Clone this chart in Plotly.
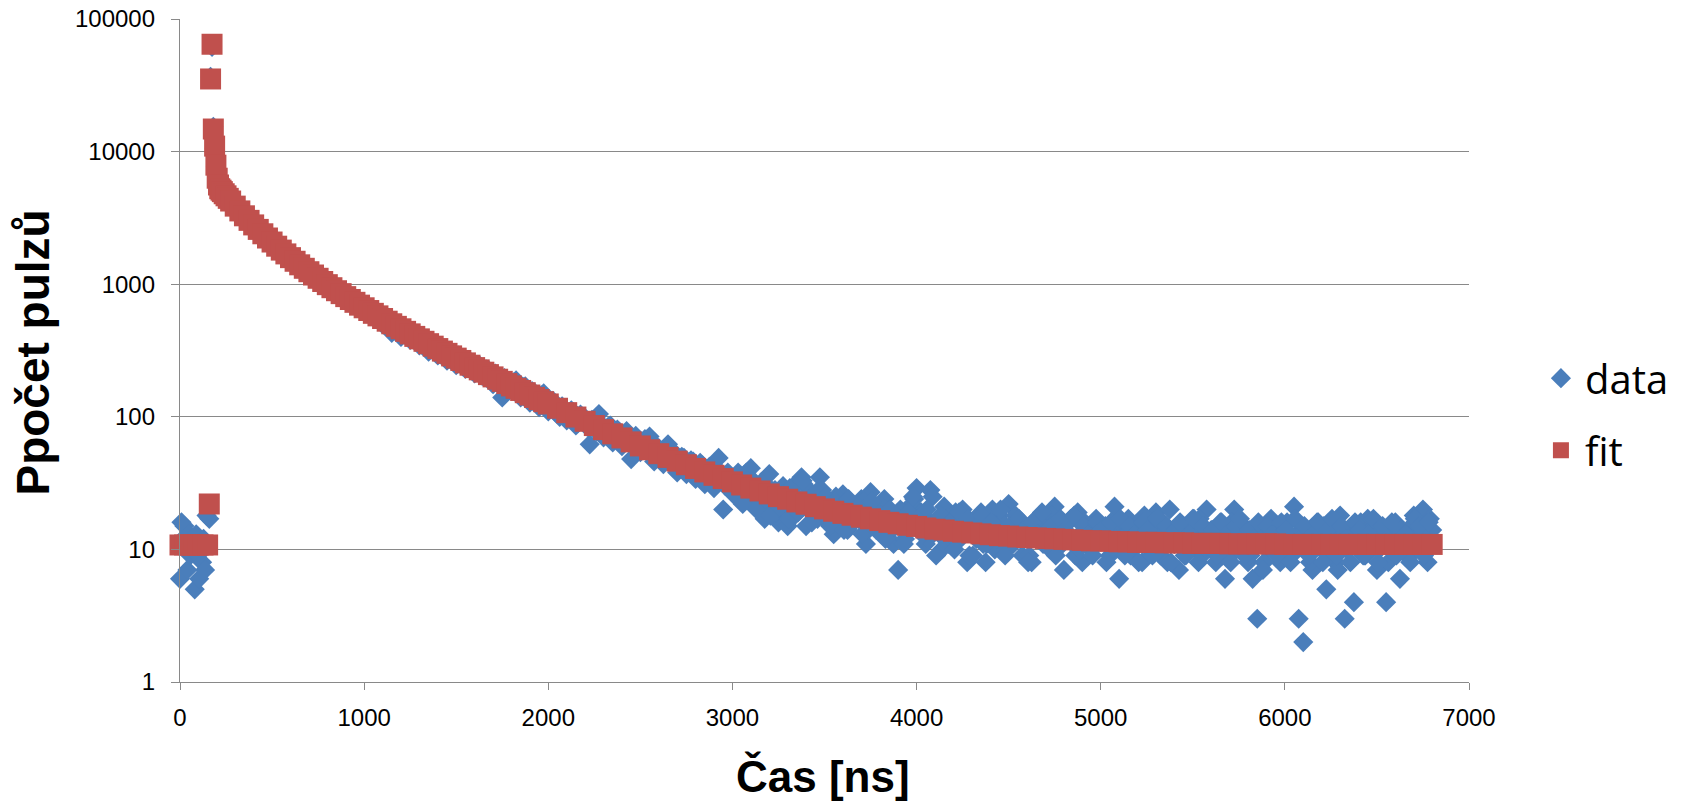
import plotly.graph_objects as go

# ---------------- data ----------------
data_x = [0, 8, 16, 24, 32, 40, 48, 56, 64, 72, 80, 88, 96, 104, 112, 120, 128, 136, 144, 152, 159,
          166, 174, 181, 188, 195, 202, 209, 216,
          225, 250, 275, 300, 325, 350, 375, 400, 425, 450, 475, 500, 525, 550, 575, 600,
          625, 650, 675, 700, 725, 750, 775, 800, 825, 850, 875, 900, 925, 950, 975, 1000,
          1025, 1050, 1075, 1100, 1125, 1150, 1175, 1200, 1225, 1250, 1275, 1300, 1325, 1350, 1375, 1400,
          1425, 1450, 1475, 1500, 1525, 1550, 1575, 1600, 1625, 1650, 1675, 1700, 1725, 1750, 1775, 1800,
          1825, 1850, 1875, 1900, 1925, 1950, 1975, 2000,
          2025, 2050, 2075, 2100, 2125, 2150, 2175, 2200, 2225, 2250, 2275, 2300, 2325, 2350, 2375, 2400,
          2425, 2450, 2475, 2500, 2525, 2550, 2575, 2600, 2625, 2650, 2675, 2700, 2725, 2750, 2775, 2800,
          2825, 2850, 2875, 2900, 2925, 2950, 2975, 3000,
          3025, 3050, 3075, 3100, 3125, 3150, 3175, 3200, 3225, 3250, 3275, 3300, 3325, 3350, 3375, 3400,
          3425, 3450, 3475, 3500, 3525, 3550, 3575, 3600, 3625, 3650, 3675, 3700, 3725, 3750, 3775, 3800,
          3825, 3850, 3875, 3900, 3925, 3950, 3975, 4000,
          4025, 4050, 4075, 4100, 4125, 4150, 4175, 4200, 4225, 4250, 4275, 4300, 4325, 4350, 4375, 4400,
          4425, 4450, 4475, 4500, 4525, 4550, 4575, 4600, 4625, 4650, 4675, 4700, 4725, 4750, 4775, 4800,
          4825, 4850, 4875, 4900, 4925, 4950, 4975, 5000,
          5025, 5050, 5075, 5100, 5125, 5150, 5175, 5200, 5225, 5250, 5275, 5300, 5325, 5350, 5375, 5400,
          5425, 5450, 5475, 5500, 5525, 5550, 5575, 5600, 5625, 5650, 5675, 5700, 5725, 5750, 5775, 5800,
          5825, 5850, 5875, 5900, 5925, 5950, 5975, 6000,
          6025, 6050, 6075, 6100, 6125, 6150, 6175, 6200, 6225, 6250, 6275, 6300, 6325, 6350, 6375, 6400,
          6425, 6450, 6475, 6500, 6525, 6550, 6575, 6600, 6625, 6650, 6675, 6700, 6725, 6750, 6775, 6800]

data_y = [6, 16, 12, 15, 10, 7, 13, 9, 11, 12, 5, 13, 9, 6, 11, 8, 12, 7, 18, 11, 17,
          36600, 61700, 15400, 10600, 7700, 6200, 5450, 5300,
          5020, 4700, 4180, 3930, 3520, 3300, 2990, 2830, 2550, 2420, 2190, 2100, 1900, 1830, 1660, 1600,
          1460, 1380, 1330, 1210, 1160, 1090, 1060, 970, 950, 870, 860, 780, 770, 710, 680, 650,
          610, 640, 540, 500, 550, 430, 470, 400, 455, 380, 415, 345, 380, 310, 350, 290,
          330, 265, 300, 245, 280, 230, 262, 212, 245, 200, 225, 176, 205, 140, 190, 160,
          188, 140, 170, 128, 152, 118, 150, 110,
          132, 104, 120, 94, 112, 86, 104, 98, 62, 90, 105, 70, 84, 64, 80, 60,
          78, 48, 72, 54, 68, 71, 46, 58, 44, 62, 52, 38, 50, 37, 47, 34,
          45, 31, 42, 29, 49, 20, 38, 27,
          34, 24, 38, 41, 21, 29, 17, 37, 26, 16, 30, 15, 24, 20, 35, 15,
          27, 19, 35, 17, 23, 13, 21, 26, 14, 22, 18, 24, 11, 27, 15, 21,
          24, 12, 11, 7, 18, 14, 22, 29,
          19, 11, 28, 16, 13, 21, 11, 17, 14, 20, 8, 15, 12, 19, 8, 14,
          10, 18, 13, 22, 11, 16, 9, 14, 8, 17, 12, 15, 10, 21, 13, 7,
          16, 11, 19, 8, 14, 10, 17, 12,
          15, 9, 21, 6, 13, 17, 10, 14, 8, 16, 12, 19, 9, 13, 20, 11,
          7, 15, 10, 17, 12, 9, 20, 14, 8, 16, 6, 13, 20, 11, 15, 8,
          6, 3, 14, 10, 17, 12, 8, 15,
          11, 21, 3, 2, 13, 7, 16, 10, 5, 14, 8, 18, 3, 12, 4, 15,
          9, 17, 11, 7, 14, 4, 10, 16, 6, 13, 9, 18, 12, 20, 8, 14]

# in-between channels of the measured data
data_x_mid = [2012, 2037, 2062, 2087, 2112, 2137, 2162, 2187, 2212, 2237, 2262, 2287, 2312, 2337, 2362, 2387,
              2412, 2437, 2462, 2487, 2512, 2537, 2562, 2587, 2612, 2637, 2662, 2687, 2712, 2737, 2762, 2787,
              2812, 2837, 2862, 2887, 2912, 2937, 2962, 2987,
              3012, 3037, 3062, 3087, 3112, 3137, 3162, 3187, 3212, 3237, 3262, 3287, 3312, 3337, 3362, 3387,
              3412, 3437, 3462, 3487, 3512, 3537, 3562, 3587, 3612, 3637, 3662, 3687, 3712, 3737, 3762, 3787,
              3812, 3837, 3862, 3887, 3912, 3937, 3962, 3987,
              4012, 4037, 4062, 4087, 4112, 4137, 4162, 4187, 4212, 4237, 4262, 4287, 4312, 4337, 4362, 4387,
              4412, 4437, 4462, 4487, 4512, 4537, 4562, 4587, 4612, 4637, 4662, 4687, 4712, 4737, 4762, 4787,
              4812, 4837, 4862, 4887, 4912, 4937, 4962, 4987,
              5012, 5037, 5062, 5087, 5112, 5137, 5162, 5187, 5212, 5237, 5262, 5287, 5312, 5337, 5362, 5387,
              5412, 5437, 5462, 5487, 5512, 5537, 5562, 5587, 5612, 5637, 5662, 5687, 5712, 5737, 5762, 5787,
              5812, 5837, 5862, 5887, 5912, 5937, 5962, 5987,
              6012, 6037, 6062, 6087, 6112, 6137, 6162, 6187, 6212, 6237, 6262, 6287, 6312, 6337, 6362, 6387,
              6412, 6437, 6462, 6487, 6512, 6537, 6562, 6587, 6612, 6637, 6662, 6687, 6712, 6737, 6762, 6787]

data_y_mid = [118, 126, 100, 114, 98, 108, 90, 97, 84, 95, 78, 88, 74, 86, 68, 77,
              66, 73, 59, 66, 56, 63, 52, 60, 48, 56, 45, 53, 42, 49, 40, 46,
              37, 43, 34, 41, 33, 38, 30, 36,
              28, 35, 25, 31, 33, 23, 30, 21, 28, 19, 26, 22, 29, 18, 24, 31,
              20, 23, 17, 28, 21, 16, 25, 19, 22, 15, 20, 17, 23, 14, 19, 16,
              21, 13, 18, 15, 20, 12, 17, 24,
              14, 18, 12, 25, 15, 10, 17, 13, 19, 12, 16, 9, 14, 17, 11, 15,
              20, 12, 16, 10, 14, 18, 12, 15, 9, 13, 16, 11, 14, 18, 10, 15,
              12, 17, 9, 13, 16, 11, 15, 12,
              12, 14, 10, 16, 11, 13, 9, 15, 12, 18, 10, 14, 11, 16, 8, 13,
              12, 15, 9, 14, 11, 17, 10, 13, 12, 15, 9, 12, 16, 10, 13, 11,
              9, 14, 12, 8, 15, 10, 13, 11,
              16, 9, 12, 14, 10, 8, 13, 11, 15, 9, 12, 7, 14, 10, 13, 11,
              16, 9, 12, 15, 10, 13, 8, 14, 11, 12, 9, 15, 10, 13, 11, 17]

# further channels of the measured data
data_x_extra = [1012, 1037, 1062, 1087, 1112, 1137, 1162, 1187, 1212, 1237, 1262, 1287, 1312, 1337, 1362, 1387,
                1412, 1437, 1462, 1487, 1512, 1537, 1562, 1587, 1612, 1637, 1662, 1687, 1712, 1737, 1762, 1787,
                1812, 1837, 1862, 1887, 1912, 1937, 1962, 1987,
                3006, 3031, 3056, 3081, 3106, 3131, 3156, 3181, 3206, 3231, 3256, 3281, 3306, 3331, 3356, 3381,
                3406, 3431, 3456, 3481, 3506, 3531, 3556, 3581, 3606, 3631, 3656, 3681, 3706, 3731, 3756, 3781,
                3806, 3831, 3856, 3881, 3906, 3931, 3956, 3981,
                4006, 4031, 4056, 4081, 4106, 4131, 4156, 4181, 4206, 4231, 4256, 4281, 4306, 4331, 4356, 4381,
                4406, 4431, 4456, 4481, 4506, 4531, 4556, 4581, 4606, 4631, 4656, 4681, 4706, 4731, 4756, 4781,
                4806, 4831, 4856, 4881, 4906, 4931, 4956, 4981,
                5006, 5031, 5056, 5081, 5106, 5131, 5156, 5181, 5206, 5231, 5256, 5281, 5306, 5331, 5356, 5381,
                5406, 5431, 5456, 5481, 5506, 5531, 5556, 5581, 5606, 5631, 5656, 5681, 5706, 5731, 5756, 5781,
                5806, 5831, 5856, 5881, 5906, 5931, 5956, 5981,
                6006, 6031, 6056, 6081, 6106, 6131, 6156, 6181, 6206, 6231, 6256, 6281, 6306, 6331, 6356, 6381,
                6406, 6431, 6456, 6481, 6506, 6531, 6556, 6581, 6606, 6631, 6656, 6681, 6706, 6731, 6756, 6781]

data_y_extra = [680, 580, 620, 530, 565, 480, 520, 445, 480, 410, 440, 375, 405, 340, 372, 310,
                342, 285, 315, 262, 290, 240, 268, 222, 246, 205, 228, 188, 212, 172, 196, 160,
                182, 150, 168, 138, 156, 126, 145, 116,
                26, 38, 22, 33, 27, 20, 32, 24, 18, 28, 21, 26, 17, 30, 19, 33,
                23, 16, 27, 20, 25, 15, 23, 18, 14, 24, 16, 21, 13, 19, 23, 14,
                18, 12, 20, 15, 17, 11, 19, 25,
                17, 13, 20, 15, 9, 18, 14, 16, 10, 19, 13, 17, 9, 15, 18, 11,
                16, 13, 20, 9, 15, 12, 17, 14, 8, 16, 13, 19, 11, 15, 9, 17,
                14, 12, 18, 10, 15, 13, 9, 16,
                14, 8, 16, 12, 17, 9, 15, 13, 8, 16, 14, 9, 17, 12, 15, 8,
                14, 16, 9, 13, 17, 8, 15, 12, 14, 9, 16, 13, 8, 15, 17, 9,
                14, 12, 16, 7, 15, 13, 9, 16,
                14, 8, 17, 12, 15, 9, 13, 16, 8, 14, 17, 9, 15, 12, 8, 16,
                14, 9, 13, 17, 8, 15, 12, 16, 9, 14, 13, 8, 17, 15, 9, 16]

fit_x = [0, 25, 50, 75, 100, 125, 150, 159, 166, 174, 181, 188, 195, 202, 209, 216, 223, 230, 240, 250, 262, 275,
         300, 325, 350, 375, 400, 425, 450, 475, 500, 525, 550, 575, 600, 625, 650, 675, 700, 725, 750, 775,
         800, 825, 850, 875, 900, 925, 950, 975, 1000, 1025, 1050, 1075, 1100, 1125, 1150, 1175, 1200, 1225,
         1250, 1275, 1300, 1325, 1350, 1375, 1400, 1425, 1450, 1475, 1500, 1525, 1550, 1575, 1600, 1625, 1650,
         1675, 1700, 1725, 1750, 1775, 1800, 1825, 1850, 1875, 1900, 1925, 1950, 1975, 2000,
         2050, 2100, 2150, 2200, 2250, 2300, 2350, 2400, 2450, 2500, 2550, 2600, 2650, 2700, 2750, 2800,
         2850, 2900, 2950, 3000, 3050, 3100, 3150, 3200, 3250, 3300, 3350, 3400, 3450, 3500, 3550, 3600,
         3650, 3700, 3750, 3800, 3850, 3900, 3950, 4000, 4050, 4100, 4150, 4200, 4250, 4300, 4350, 4400,
         4450, 4500, 4550, 4600, 4650, 4700, 4750, 4800, 4850, 4900, 4950, 5000, 5050, 5100, 5150, 5200,
         5250, 5300, 5350, 5400, 5450, 5500, 5550, 5600, 5650, 5700, 5750, 5800, 5850, 5900, 5950, 6000,
         6050, 6100, 6150, 6200, 6250, 6300, 6350, 6400, 6450, 6500, 6550, 6600, 6650, 6700, 6750, 6800]

fit_y = [10.8, 10.8, 10.8, 10.8, 10.8, 10.8, 10.8, 22, 35300, 64500, 14800, 11000, 7900, 6300, 5600, 5250,
         5120, 4990, 4810, 4640, 4440, 4240,
         3880, 3570, 3280, 3030, 2800, 2590, 2400, 2230, 2080, 1935, 1808, 1692, 1586, 1489, 1400, 1318,
         1242, 1173, 1108, 1048, 992, 941, 893, 849, 806, 767, 730, 695, 664, 633, 603, 577, 551, 526,
         503, 481, 461, 441, 422, 404, 387, 371, 356, 341, 327, 313, 301, 288, 277, 266, 255, 245, 235,
         226, 217, 208, 200, 192, 185, 178, 171, 164, 158, 152, 146, 140, 135, 130, 125,
         116, 107.5, 99.6, 92.5, 85.9, 80.0, 74.4, 69.3, 64.7, 60.3, 56.4, 52.7, 49.4, 46.3, 43.5, 40.8,
         38.4, 36.2, 34.2, 32.3, 30.6, 29.0, 27.6, 26.2, 25.0, 23.9, 22.8, 21.9, 21.0, 20.2, 19.4, 18.7,
         18.1, 17.5, 17.0, 16.5, 16.0, 15.6, 15.2, 14.9, 14.5, 14.2, 14.0, 13.7, 13.5, 13.3, 13.1, 12.9,
         12.7, 12.6, 12.4, 12.3, 12.2, 12.1, 12.0, 11.9, 11.8, 11.7, 11.6, 11.6, 11.5, 11.4, 11.4, 11.3,
         11.3, 11.3, 11.2, 11.2, 11.2, 11.1, 11.1, 11.1, 11.1, 11.0, 11.0, 11.0, 11.0, 11.0, 11.0, 10.9,
         10.9, 10.9, 10.9, 10.9, 10.9, 10.9, 10.9, 10.9, 10.9, 10.9, 10.9, 10.9, 10.9, 10.9, 10.9, 10.9]

assert len(data_x) == len(data_y), (len(data_x), len(data_y))
assert len(data_x_mid) == len(data_y_mid), (len(data_x_mid), len(data_y_mid))
assert len(data_x_extra) == len(data_y_extra), (len(data_x_extra), len(data_y_extra))
assert len(fit_x) == len(fit_y), (len(fit_x), len(fit_y))

y_tick_vals = [1, 10, 100, 1000, 10000, 100000]
y_tick_text = ["1", "10", "100", "1000", "10000", "100000"]
x_tick_vals = [0, 1000, 2000, 3000, 4000, 5000, 6000, 7000]

series_names = ["data", "fit"]
x_title = "Čas [ns]"
y_title = "Ppočet pulzů"

# ---------------- figure ----------------
BLUE = "#4A7EBB"
RED = "#C0504D"
GRID = "#898989"
TICK_FONT = dict(family="Liberation Sans, Arial, sans-serif", size=24, color="#000000")

fig = go.Figure()
fig.add_trace(go.Scatter(
    x=data_x + data_x_mid + data_x_extra, y=data_y + data_y_mid + data_y_extra, mode="markers",
    name=series_names[0], legendgroup="g1",
    marker=dict(symbol="diamond", size=15.5, color=BLUE, line=dict(width=0)),
    cliponaxis=False,
))
fig.add_trace(go.Scatter(
    x=fit_x, y=fit_y, mode="markers", name=series_names[1], legendgroup="g2",
    marker=dict(symbol="square", size=21, color=RED, line=dict(width=0)),
    cliponaxis=False,
))

fig.update_layout(
    width=1690, height=803,
    margin=dict(l=180, r=221, t=19, b=121),
    paper_bgcolor="white", plot_bgcolor="white",
    showlegend=True,
    legend=dict(x=1.0527, xanchor="left", y=0.404, yanchor="middle",
                font=dict(family="Open Sans, sans-serif", size=40, color="#000000"),
                tracegroupgap=17, bgcolor="rgba(0,0,0,0)", itemsizing="trace", itemwidth=38),
    xaxis=dict(range=[0, 7000], tickvals=x_tick_vals, showgrid=False, zeroline=False,
               showline=True, linecolor=GRID, linewidth=1.3, automargin=False,
               ticks="outside", ticklen=7, tickwidth=1.3, tickcolor=GRID,
               tickfont=TICK_FONT, ticklabelstandoff=7),
    yaxis=dict(type="log", range=[0, 5], tickvals=y_tick_vals, ticktext=y_tick_text,
               showgrid=True, gridcolor=GRID, gridwidth=1.3, zeroline=False,
               showline=True, linecolor=GRID, linewidth=1.3, automargin=False,
               ticks="outside", ticklen=8, tickwidth=1.3, tickcolor=GRID,
               tickfont=TICK_FONT, ticklabelstandoff=11),
    annotations=[
        dict(text=x_title, xref="paper", yref="paper", x=0.4988, y=-0.1418,
             xanchor="center", yanchor="middle", showarrow=False,
             font=dict(family="Liberation Sans, Arial, sans-serif", size=44, color="#000000", weight="bold")),
        dict(text=y_title, xref="paper", yref="paper", x=-0.114, y=0.497, textangle=-90,
             xanchor="center", yanchor="middle", showarrow=False,
             font=dict(family="Liberation Sans, Arial, sans-serif", size=46, color="#000000", weight="bold")),
    ],
)

fig.write_html("out.html", config={"displayModeBar": False},
               post_script="document.body.style.margin='0px';")
